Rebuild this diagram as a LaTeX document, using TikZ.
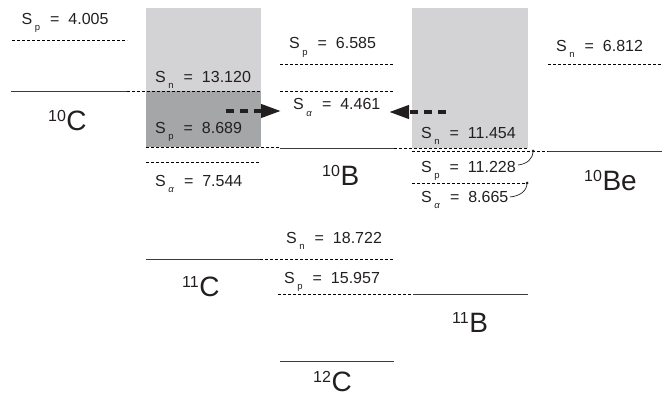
\documentclass[tikz,border=0pt]{standalone}
\usepackage{fontspec}
\setmainfont{Liberation Sans}
\usetikzlibrary{arrows.meta}
\definecolor{lightbox}{RGB}{211,211,213}
\definecolor{darkbox}{RGB}{165,166,168}
\definecolor{lvlcol}{RGB}{60,60,60}
\definecolor{ink}{RGB}{35,31,32}
\newcommand{\Sep}[2]{S\kern2.5pt\raisebox{-6pt}{\fontsize{9.5}{9.5}\selectfont #1}\kern10pt=\kern9pt#2}
\newcommand{\Nuc}[2]{\raisebox{9pt}{\fontsize{16}{16}\selectfont #1}\kern0.5pt{\fontsize{28}{28}\selectfont #2}}
\tikzset{
  lab/.style={anchor=base west, inner sep=0pt, font=\fontsize{16}{18}\selectfont, text=ink},
  nuc/.style={anchor=base west, inner sep=0pt, text=ink},
  lvl/.style={draw=lvlcol, line width=0.9pt},
  sepline/.style={draw=black, line width=0.7pt, dash pattern=on 3pt off 2pt},
  bigarrow/.style={draw=ink, line width=4pt, dash pattern=on 8pt off 6pt, -{Triangle[length=20pt,width=13pt]}},
  callout/.style={draw=ink, line width=0.7pt},
  dot/.style={circle, fill=ink, inner sep=0pt, minimum size=3pt}
}
\begin{document}
\begin{tikzpicture}[x=1pt,y=-1pt]
\useasboundingbox (0,0) rectangle (667,396);
% boxes
\fill[lightbox] (146,8) rectangle (261,91);
\fill[darkbox] (146,91) rectangle (261,147);
\fill[lightbox] (412,8) rectangle (528,148);
% levels
\draw[sepline] (12,40) -- (127,40);
\draw[lvl] (11,91) -- (127,91);
\draw[sepline] (127,91) -- (261,91);
\draw[sepline] (146,147) -- (280,147);
\draw[lvl] (280,148) -- (394,148);
\draw[sepline] (394,148) -- (528,148);
\draw[sepline] (412,151) -- (548,151);
\draw[lvl] (548,151) -- (662,151);
\draw[sepline] (146,162) -- (259,162);
\draw[sepline] (280,64) -- (393,64);
\draw[sepline] (280,91) -- (393,91);
\draw[sepline] (548,64) -- (662,64);
\draw[sepline] (412,183) -- (527,183);
\draw[lvl] (146,259) -- (260,259);
\draw[sepline] (260,259) -- (393,259);
\draw[sepline] (278,294) -- (413,294);
\draw[lvl] (413,294) -- (528,294);
\draw[lvl] (280,361) -- (394,361);
% labels
\node[lab] (t1) at (21.5,25) {\Sep{p}{4.005}};
\node[lab] (t2) at (155,82) {\Sep{n}{13.120}};
\node[lab] (t3) at (155,133) {\Sep{p}{8.689}};
\node[lab] (t4) at (155,186) {\Sep{\textit{α}}{7.544}};
\node[lab] (t5) at (289,49) {\Sep{p}{6.585}};
\node[lab] (t6) at (293,110) {\Sep{\textit{α}}{4.461}};
\node[lab] (t7) at (556,52) {\Sep{n}{6.812}};
\node[lab] (t8) at (421,138) {\Sep{n}{11.454}};
\node[lab] (t9) at (421,172) {\Sep{p}{11.228}};
\node[lab] (t10) at (421,202) {\Sep{\textit{α}}{8.665}};
\node[lab] (t11) at (286,243) {\Sep{n}{18.722}};
\node[lab] (t12) at (284,283) {\Sep{p}{15.957}};
% nuclides
\node[nuc] (c10) at (48,130) {\Nuc{10}{C}};
\node[nuc] (b10) at (322,185) {\Nuc{10}{B}};
\node[nuc] (be10) at (584,190) {\Nuc{10}{Be}};
\node[nuc] (c11) at (182,296) {\Nuc{11}{C}};
\node[nuc] (b11) at (452,332) {\Nuc{11}{B}};
\node[nuc] (c12) at (313,391) {\Nuc{12}{C}};
% arrows
\coordinate (ra1) at (226,111);
\coordinate (ra2) at (281,111);
\coordinate (la1) at (446,112);
\coordinate (la2) at (389,112);
\draw[bigarrow] (ra1) -- (ra2);
\draw[bigarrow] (la1) -- (la2);
% callouts
\node[dot] (d1) at (533,151) {};
\node[dot] (d2) at (527,183) {};
\coordinate (c1s) at (518,165);
\coordinate (c2s) at (510,197);
\draw[callout] (c1s) .. controls (527,164) and (533,159) .. (d1.center);
\draw[callout] (c2s) .. controls (520,196) and (527,191) .. (d2.center);
\end{tikzpicture}
\end{document}
